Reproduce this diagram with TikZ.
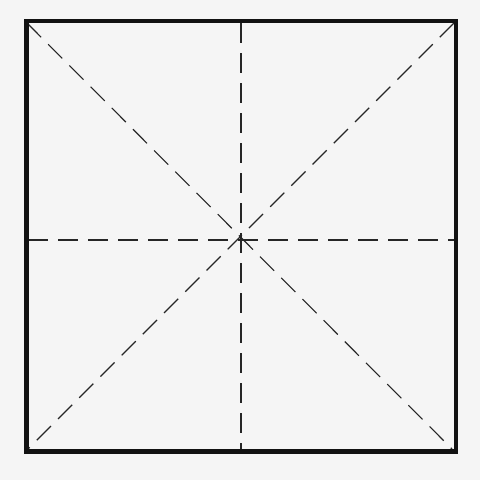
\documentclass[tikz,border=0pt]{standalone}
\begin{document}
\begin{tikzpicture}[x=1pt,y=-1pt,
  frame/.style={draw=black!93,line width=4.5pt},
  guide/.style={draw=black!85,line width=1.1pt,dash pattern=on 20pt off 10pt}]
\fill[black!4] (0,0) rectangle (480,480);
\useasboundingbox (0,0) rectangle (480,480);
\coordinate (tl) at (27,23);
\coordinate (tr) at (454,23);
\coordinate (bl) at (28,449);
\coordinate (br) at (452,449);
\coordinate (tm) at (241,23);
\coordinate (bm) at (241,449);
\coordinate (lm) at (28,240);
\coordinate (rm) at (454,240);
\draw[guide] (tl) -- (br);
\draw[guide] (tr) -- (bl);
\draw[guide] (tm) -- (bm);
\draw[guide] (lm) -- (rm);
\draw[frame] (26.5,21) rectangle (456,451.5);
\end{tikzpicture}
\end{document}
